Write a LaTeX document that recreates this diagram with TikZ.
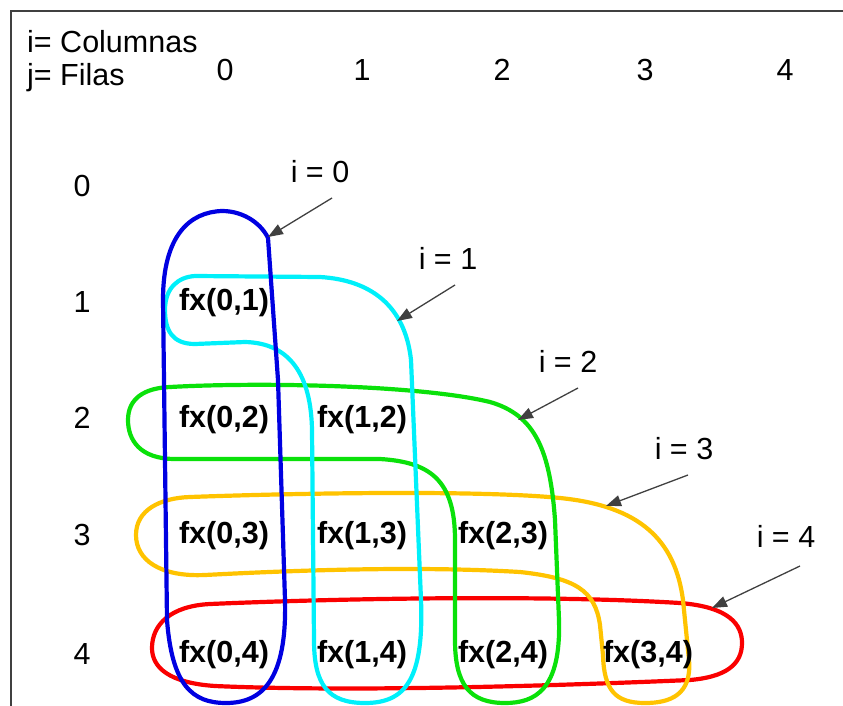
\documentclass[tikz,border=0pt]{standalone}
\usepackage{fontspec}
\setmainfont{Liberation Sans}
\usetikzlibrary{arrows.meta}
\definecolor{ringblue}{RGB}{0,0,225}
\definecolor{ringcyan}{RGB}{0,240,250}
\definecolor{ringgreen}{RGB}{10,225,10}
\definecolor{ringyellow}{RGB}{255,195,0}
\definecolor{ringred}{RGB}{250,0,0}

\begin{document}
\begin{tikzpicture}[
  x=1pt, y=-1pt,
  txt/.style={font=\fontsize{30.5}{36}\selectfont, inner sep=0pt},
  cell/.style={txt, font=\fontsize{30.5}{36}\selectfont\bfseries},
  ring/.style={line width=4.2pt, line join=round},
  arr/.style={-{Triangle[length=15pt,width=11pt]}, line width=1.3pt, draw=black!75}
]
\useasboundingbox (0,0) rectangle (843,706);
\draw[line width=2pt, black!75] (843,11) -- (11,11) -- (11,706);

% legend and headers
\node[txt, anchor=base west] (leg1) at (27,53) {i= Columnas};
\node[txt, anchor=base west] (leg2) at (27,86) {j= Filas};
\node[txt] (c0) at (225,70) {0};
\node[txt] (c1) at (362,70) {1};
\node[txt] (c2) at (502,70) {2};
\node[txt] (c3) at (645,70) {3};
\node[txt] (c4) at (785,70) {4};
\node[txt] (r0) at (82,186) {0};
\node[txt] (r1) at (82,302) {1};
\node[txt] (r2) at (82,418) {2};
\node[txt] (r3) at (82,535) {3};
\node[txt] (r4) at (82,654) {4};

% rings
\draw[ring, ringred] (210,604) .. controls (350,598) and (550,595) .. (680,603)
  .. controls (730,607) and (742,625) .. (742,643)
  .. controls (742,665) and (725,677) .. (690,680)
  .. controls (550,686) and (350,692) .. (215,686)
  .. controls (170,683) and (152,668) .. (152,648)
  .. controls (152,625) and (170,606) .. (210,604) -- cycle;
\draw[ring, ringyellow] (190,497) .. controls (300,493) and (480,490) .. (560,498)
  .. controls (640,506) and (675,540) .. (683,600) -- (689,660)
  .. controls (692,695) and (670,703) .. (645,703)
  .. controls (615,703) and (604,690) .. (603,655) -- (600,625)
  .. controls (595,590) and (575,578) .. (520,572)
  .. controls (420,566) and (300,570) .. (205,575)
  .. controls (160,577) and (136,560) .. (136,535)
  .. controls (136,510) and (160,498) .. (190,497) -- cycle;
\draw[ring, ringgreen] (170,387) .. controls (260,382) and (420,385) .. (490,402)
  .. controls (535,415) and (550,450) .. (555,520) -- (559,620)
  .. controls (561,690) and (535,703) .. (505,703)
  .. controls (470,703) and (455,685) .. (455,640) -- (455,540)
  .. controls (455,480) and (430,462) .. (380,459) -- (175,459)
  .. controls (140,459) and (128,440) .. (128,420)
  .. controls (128,398) and (145,388) .. (170,387) -- cycle;
\draw[ring, ringcyan] (195,276) -- (320,277)
  .. controls (370,280) and (405,305) .. (411,360) -- (421,600)
  .. controls (424,680) and (405,703) .. (365,703)
  .. controls (328,703) and (314,685) .. (314,640) -- (312,430)
  .. controls (311,375) and (290,343) .. (245,342) -- (195,344)
  .. controls (172,344) and (165,330) .. (165,310)
  .. controls (165,288) and (178,277) .. (195,276) -- cycle;
\draw[ring, ringblue] (163,300) .. controls (163,235) and (190,212) .. (222,211)
  .. controls (245,211) and (262,225) .. (268,238) -- (278,380) -- (285,600)
  .. controls (287,680) and (262,703) .. (226,703)
  .. controls (192,703) and (172,685) .. (167,620) -- cycle;

% cells
\node[cell] (f01) at (224,303) {fx(0,1)};
\node[cell] (f02) at (224,420) {fx(0,2)};
\node[cell] (f12) at (362,420) {fx(1,2)};
\node[cell] (f03) at (224,536) {fx(0,3)};
\node[cell] (f13) at (362,536) {fx(1,3)};
\node[cell] (f23) at (503,536) {fx(2,3)};
\node[cell] (f04) at (224,655) {fx(0,4)};
\node[cell] (f14) at (362,655) {fx(1,4)};
\node[cell] (f24) at (503,655) {fx(2,4)};
\node[cell] (f34) at (648,655) {fx(3,4)};

% index labels and arrows
\node[txt] (l0) at (320,172) {i = 0};
\node[txt] (l1) at (448,258) {i = 1};
\node[txt] (l2) at (568,361) {i = 2};
\node[txt] (l3) at (684,449) {i = 3};
\node[txt] (l4) at (786,536) {i = 4};
\coordinate (s0) at (332,198); \coordinate (t0) at (268,237);
\coordinate (s1) at (455,285); \coordinate (t1) at (397,321);
\coordinate (s2) at (578,388); \coordinate (t2) at (518,420);
\coordinate (s3) at (688,475); \coordinate (t3) at (606,506);
\coordinate (s4) at (800,566); \coordinate (t4) at (712,608);
\draw[arr] (s0) -- (t0);
\draw[arr] (s1) -- (t1);
\draw[arr] (s2) -- (t2);
\draw[arr] (s3) -- (t3);
\draw[arr] (s4) -- (t4);
\end{tikzpicture}
\end{document}
